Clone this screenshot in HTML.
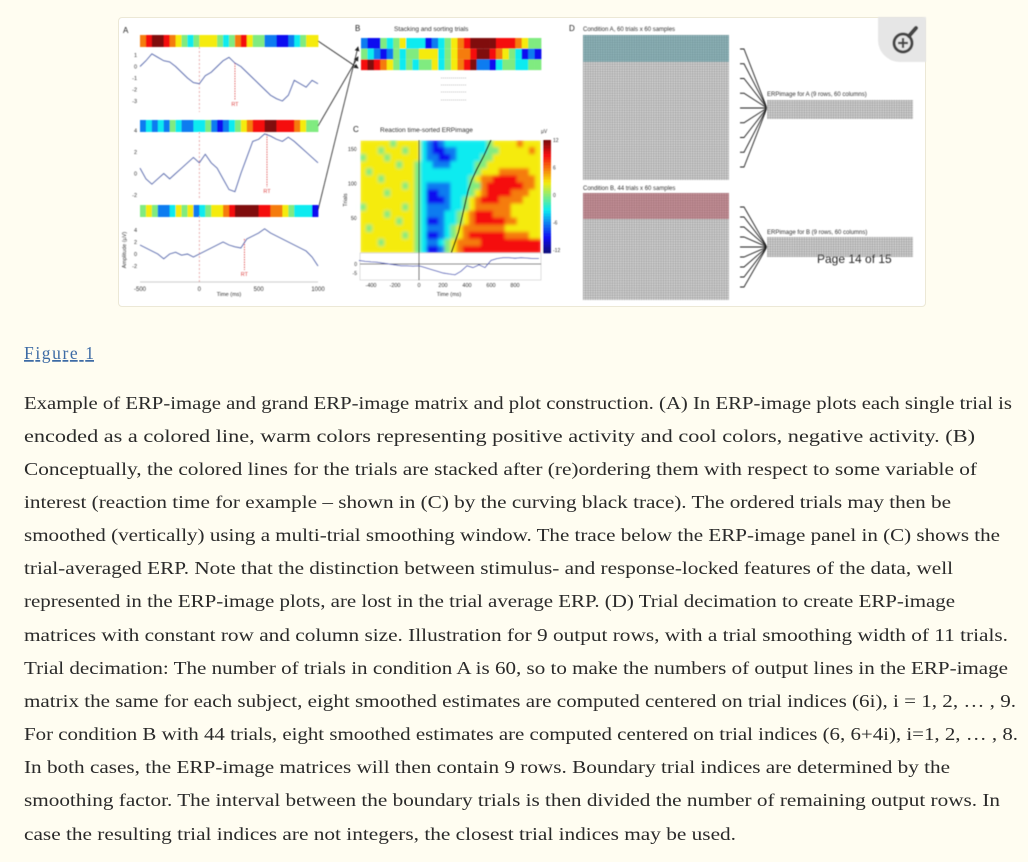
<!DOCTYPE html>
<html><head><meta charset="utf-8">
<style>
html,body{margin:0;padding:0;background:#fffdf1;}
body{width:1028px;height:862px;overflow:hidden;position:relative;font-family:"Liberation Sans",sans-serif;}
#fig{position:absolute;left:118px;top:17px;width:806px;height:288px;background:#fff;border:1px solid #ece8d6;border-radius:4px;}
svg text{font-family:"Liberation Sans",sans-serif;}
</style></head>
<body>
<div id="fig"></div>
<svg id="s" width="1028" height="862" style="position:absolute;left:0;top:0">
<defs>
<pattern id="gridA" width="2.43" height="2.42" patternUnits="userSpaceOnUse" x="583" y="35"><rect width="2.43" height="2.42" fill="#d2d2d2"/><path d="M0 0H2.43M0 0V2.42" stroke="#666" stroke-width="0.6"/></pattern>
<pattern id="gridB" width="2.43" height="2.43" patternUnits="userSpaceOnUse" x="583" y="193"><rect width="2.43" height="2.43" fill="#d2d2d2"/><path d="M0 0H2.43M0 0V2.43" stroke="#666" stroke-width="0.6"/></pattern>
<marker id="arr" markerWidth="6" markerHeight="6" refX="5" refY="3" orient="auto"><path d="M0 0L6 3L0 6z" fill="#222"/></marker>
<filter id="soft" x="-5%" y="-5%" width="110%" height="110%"><feGaussianBlur stdDeviation="0.45"/></filter>
<filter id="hblur" x="-5%" y="-5%" width="110%" height="110%"><feGaussianBlur stdDeviation="1.6"/></filter>
</defs>
<g id="g" filter="url(#soft)"></g>
<g font-size="17.5" fill="#2a2a2a" style="font-family:'Liberation Serif',serif">
<text x="24" y="359" fill="#3d6ba5" text-decoration="underline" style="font-family:'Liberation Serif',serif" textLength="70">Figure 1</text>
<text x="24" y="409" textLength="988" lengthAdjust="spacingAndGlyphs" style="font-family:'Liberation Serif',serif">Example of ERP-image and grand ERP-image matrix and plot construction. (A) In ERP-image plots each single trial is</text>
<text x="24" y="442" textLength="951" lengthAdjust="spacingAndGlyphs" style="font-family:'Liberation Serif',serif">encoded as a colored line, warm colors representing positive activity and cool colors, negative activity. (B)</text>
<text x="24" y="475" textLength="953" lengthAdjust="spacingAndGlyphs" style="font-family:'Liberation Serif',serif">Conceptually, the colored lines for the trials are stacked after (re)ordering them with respect to some variable of</text>
<text x="24" y="508" textLength="927" lengthAdjust="spacingAndGlyphs" style="font-family:'Liberation Serif',serif">interest (reaction time for example – shown in (C) by the curving black trace). The ordered trials may then be</text>
<text x="24" y="541" textLength="976" lengthAdjust="spacingAndGlyphs" style="font-family:'Liberation Serif',serif">smoothed (vertically) using a multi-trial smoothing window. The trace below the ERP-image panel in (C) shows the</text>
<text x="24" y="574" textLength="929" lengthAdjust="spacingAndGlyphs" style="font-family:'Liberation Serif',serif">trial-averaged ERP. Note that the distinction between stimulus- and response-locked features of the data, well</text>
<text x="24" y="607" textLength="931" lengthAdjust="spacingAndGlyphs" style="font-family:'Liberation Serif',serif">represented in the ERP-image plots, are lost in the trial average ERP. (D) Trial decimation to create ERP-image</text>
<text x="24" y="641" textLength="984" lengthAdjust="spacingAndGlyphs" style="font-family:'Liberation Serif',serif">matrices with constant row and column size. Illustration for 9 output rows, with a trial smoothing width of 11 trials.</text>
<text x="24" y="674" textLength="984" lengthAdjust="spacingAndGlyphs" style="font-family:'Liberation Serif',serif">Trial decimation: The number of trials in condition A is 60, so to make the numbers of output lines in the ERP-image</text>
<text x="24" y="707" textLength="992" lengthAdjust="spacingAndGlyphs" style="font-family:'Liberation Serif',serif">matrix the same for each subject, eight smoothed estimates are computed centered on trial indices (6i), i = 1, 2, … , 9.</text>
<text x="24" y="740" textLength="994" lengthAdjust="spacingAndGlyphs" style="font-family:'Liberation Serif',serif">For condition B with 44 trials, eight smoothed estimates are computed centered on trial indices (6, 6+4i), i=1, 2, … , 8.</text>
<text x="24" y="773" textLength="926" lengthAdjust="spacingAndGlyphs" style="font-family:'Liberation Serif',serif">In both cases, the ERP-image matrices will then contain 9 rows. Boundary trial indices are determined by the</text>
<text x="24" y="806" textLength="976" lengthAdjust="spacingAndGlyphs" style="font-family:'Liberation Serif',serif">smoothing factor. The interval between the boundary trials is then divided the number of remaining output rows. In</text>
<text x="24" y="840" textLength="712" lengthAdjust="spacingAndGlyphs" style="font-family:'Liberation Serif',serif">case the resulting trial indices are not integers, the closest trial indices may be used.</text>
</g>
</svg>
<script>
// ---- data ----
const timesA = [-500,-450,-400,-350,-300,-250,-200,-150,-100,-50,0,50,100,150,200,250,300,350,400,450,500,550,600,650,700,750,800,850,900,950,1000];
const trace1 = [0,0.5,1.1,0.8,0.5,0.4,0,-0.5,-1,-1.4,-1.5,-0.8,-0.5,0,0.5,0.8,0.3,0,-0.5,-1,-1.5,-2,-2.5,-2.8,-3,-2.5,-1.2,-1.5,-1.8,-1.2,-1.5];
const trace2 = [0.5,-0.5,-1,-0.5,0,-0.5,0,0.5,1,1.5,1,1.8,1,0.5,-0.5,-1.5,-1.7,0,1.5,3,3.2,3.7,3.5,3.2,3,3.4,3,2.5,2,1.5,1];
const trace3 = [1.5,1,0.5,0,-0.8,0,0.3,-0.2,0,-0.5,0,0.5,1,1.5,2,1.5,1.2,1,2.5,3,3.5,4.2,3.5,3,2.5,2,1.5,1,0.5,-0.5,-2];
const rtA = [300,570,380];
const strip1 = "678876543455543467544221123455";
const strip2 = "232324322334212345677887776544";
const strip3 = "454223545234556788887766543331";
const stripB = ["2114345333123456788887776544","4321243445553456678876543121","7876543434453456782213443344"];
const heatRows = [
"555554555532123333333455556555",
"555455545532112233333445555565",
"455545555532211233334455555555",
"555555455433222333344555555555",
"545555555433333333345556666655",
"555455555433333333456677776665",
"555555545432222333446777777665",
"555545555431122333456777766655",
"555555555431112334567776666555",
"455555545432222334566666655555",
"555545555432223345677766655555",
"555555455431123345677777665555",
"545555555432223456666666555555",
"555555545431123456777777666655",
"555455555432234566667777777777",
"555555555431124567777777777777"];
const rtTrials = [0,15,30,45,60,75,90,105,120,140,163];
const rtTimes = [270,300,330,350,370,390,410,440,480,540,600];
const erpC = [2,1.5,1.2,1,0.5,0,-0.5,-1,-1,-1.2,-1,-2,-3,-4,-5,-5.5,-6,-4,-1,-2,-0.5,-2,2,3,3.5,3.5,3.2,3.5,3.3,3,3];
const cbTicks = ["12","6","0","-6","-12"];
// ---- helpers ----
const NS="http://www.w3.org/2000/svg";
const G=document.getElementById('g');
function el(t,a,p){const e=document.createElementNS(NS,t);for(const k in a)e.setAttribute(k,a[k]);(p||G).appendChild(e);return e;}
function jet(v){const t=Math.max(0,Math.min(1,v));const r=Math.min(1,Math.max(0,1.5-Math.abs(4*t-3))),g=Math.min(1,Math.max(0,1.5-Math.abs(4*t-2))),b=Math.min(1,Math.max(0,1.5-Math.abs(4*t-1)));return `rgb(${Math.round(r*235+10)},${Math.round(g*225+10)},${Math.round(b*225+15)})`;}
function txt(x,y,s,size,name,anchor,fill){const t=el('text',{x:x,y:y,'font-size':size,fill:fill||'#333','text-anchor':anchor||'start'});t.textContent=s;


return t;}
function strip(str,x0,y0,w,h,name){const g=el('g',{});


const cw=w/str.length;for(let i=0;i<str.length;i++){const r=el('rect',{x:x0+i*cw,y:y0,width:cw+0.4,height:h,fill:jet(+str[i]/8)},g);

}}
// ---- panel A ----
const ax=t=>140+(t+500)/1500*178;
txt(123,33,'A',8,'panel-a-label','start','#222');
const plots=[{s:strip1,sy:35,py:47,ph:65,z:66.5,k:11.5,tr:trace1,ticks:[1,0,-1,-2,-3]},
{s:strip2,sy:120,py:132,ph:67,z:173.5,k:10.7,tr:trace2,ticks:[4,2,0,-2]},
{s:strip3,sy:205,py:216,ph:66,z:254,k:6,tr:trace3,ticks:[4,2,0,-2]}];
plots.forEach((p,i)=>{
 strip(p.s,140,p.sy,178,12,'trial-strip-'+(i+1));
 el('line',{x1:ax(0),x2:ax(0),y1:p.py,y2:p.py+p.ph,stroke:'#d88',"stroke-dasharray":"2,2","stroke-width":0.7});
 el('line',{x1:ax(rtA[i]),x2:ax(rtA[i]),y1:p.z-p.k*p.tr[Math.round((rtA[i]+500)/50)],y2:p.py+p.ph-12,stroke:'#d44',"stroke-dasharray":"1.5,1","stroke-width":0.8});
 txt(ax(rtA[i]),p.py+p.ph-6,'RT',5.5,'rt-label-'+(i+1),'middle','#d44');
 const pl=el('polyline',{points:p.tr.map((v,j)=>ax(timesA[j])+','+(p.z-p.k*v)).join(' '),fill:'none',stroke:'#5566aa','stroke-width':0.9});
 
 
 p.ticks.forEach(v=>txt(137,p.z-p.k*v+2,String(v),5.5,'y-tick','end'));
});
el('line',{x1:140,x2:318,y1:282,y2:282,stroke:'#999','stroke-width':0.5});
[-500,0,500,1000].forEach(v=>txt(ax(v),291,String(v),6,'x-tick-a','middle'));
txt(ax(250),296,'Time (ms)',5.5,'x-axis-title-a','middle');
const yt=txt(126,250,'Amplitude (µV)',5.5,'y-axis-title-a','middle');yt.setAttribute('transform','rotate(-90 126 250)');
// ---- panel B ----
txt(355,31,'B',8,'panel-b-label','start','#222');
txt(394,31,'Stacking and sorting trials',6.5,'panel-b-title');
stripB.forEach((s,i)=>strip(s,361,38+i*10.7,180,10.7,'sorted-strip-'+(i+1)));
[78,85,92,100].forEach(y=>{el('line',{x1:441,x2:467,y1:y,y2:y,stroke:'#aaa','stroke-dasharray':'1,1','stroke-width':0.8});});
[[318,41,358,68],[318,126,358,57],[318,210,358,47]].forEach((a,i)=>{const l=el('line',{x1:a[0],y1:a[1],x2:a[2],y2:a[3],stroke:'#222','stroke-width':0.8,'marker-end':'url(#arr)'});

});
// ---- panel C ----
const cx=t=>359+(t+500)/1500*180;
const cy=tr=>252.5-tr*0.69;
txt(353,132,'C',8,'panel-c-label','start','#222');
txt(380,132,'Reaction time-sorted ERPimage',6.5,'panel-c-title');
const hm=el('g',{});


const hmi=el('g',{filter:'url(#hblur)'},hm);
const nr=heatRows.length;heatRows.forEach((row,r)=>{const cw=181/row.length,rh=113/nr;for(let c=0;c<row.length;c++){const e=el('rect',{x:360+c*cw,y:140+r*rh,width:cw+0.4,height:rh+0.4,fill:jet(+row[c]/8)},hmi);

}});
el('rect',{x:357,y:137,width:3,height:119,fill:'#fff'});
el('rect',{x:541,y:137,width:2,height:119,fill:'#fff'});
el('rect',{x:357,y:136,width:186,height:4,fill:'#fff'});
el('line',{x1:cx(0),x2:cx(0),y1:140,y2:280,stroke:'#333','stroke-width':1});
const rt=el('polyline',{points:rtTrials.map((t,i)=>cx(rtTimes[i])+','+cy(t)).join(' '),fill:'none',stroke:'#111','stroke-width':1.2});


[50,100,150].forEach(v=>txt(357,cy(v)+2,String(v),5.5,'y-tick-c','end'));
const tt=txt(347,200,'Trials',5.5,'y-axis-title-c','middle');tt.setAttribute('transform','rotate(-90 347 200)');
for(let i=0;i<40;i++){el('rect',{x:543,y:140+i*113/40,width:8,height:113/40+0.3,fill:jet(1-i/39)});}
cbTicks.forEach((s,i)=>txt(553,142+i*27.5,s,5,'colorbar-tick'));
txt(541,133,'µV',5,'colorbar-unit');
el('rect',{x:360,y:253,width:181,height:27,fill:'#fff',stroke:'#bbb','stroke-width':0.5});
el('line',{x1:360,x2:541,y1:264,y2:264,stroke:'#333','stroke-width':0.8});
el('line',{x1:cx(0),x2:cx(0),y1:253,y2:280,stroke:'#333','stroke-width':1});
const ec=el('polyline',{points:erpC.map((v,i)=>cx(timesA[i])+','+(264-1.8*v)).join(' '),fill:'none',stroke:'#4455bb','stroke-width':0.9});


txt(357,266,'0',5,'erp-tick','end');txt(357,275,'-5',5,'erp-tick','end');
[-400,-200,0,200,400,600,800].forEach(v=>txt(cx(v),287,String(v),5.5,'x-tick-c','middle'));
txt(cx(250),296,'Time (ms)',5.5,'x-axis-title-c','middle');
// ---- panel D ----
txt(569,31,'D',8,'panel-d-label','start','#222');
txt(583,31,'Condition A, 60 trials x 60 samples',6,'cond-a-title');
txt(583,190,'Condition B, 44 trials x 60 samples',6,'cond-b-title');
const ga=el('rect',{x:583,y:35,width:146,height:145,fill:'url(#gridA)'});


el('rect',{x:583,y:35,width:146,height:27,fill:'#3d8f9a',opacity:0.45});
const gb=el('rect',{x:583,y:193,width:146,height:107,fill:'url(#gridB)'});


el('rect',{x:583,y:193,width:146,height:26,fill:'#b04050',opacity:0.45});
function fan(y0,y1,n,tx,ty){for(let i=0;i<n;i++){const y=y0+i*(y1-y0)/(n-1);el('path',{d:`M740 ${y} L744 ${y} L${tx} ${ty}`,fill:'none',stroke:'#222','stroke-width':0.9});}}
fan(49,167,9,767,108);fan(207,287,9,767,247);
const oa=el('rect',{x:767,y:100,width:146,height:19,fill:'url(#gridA)'});


const ob=el('rect',{x:767,y:237,width:146,height:20,fill:'url(#gridB)'});


txt(767,96,'ERPimage for A (9 rows, 60 columns)',6,'erpimage-a-label');
txt(767,234,'ERPimage for B (9 rows, 60 columns)',6,'erpimage-b-label');
txt(817,263,'Page 14 of 15',12,'page-indicator','start','#222');
// zoom button
const zb=el('path',{d:'M878 17 H926 V62 H900 A22 22 0 0 1 878 40 Z',fill:'#e6e6e6'});


el('circle',{cx:903,cy:43,r:9,fill:'none',stroke:'#444','stroke-width':3});
el('line',{x1:909,y1:36,x2:916,y2:28,stroke:'#444','stroke-width':4,'stroke-linecap':'round'});
el('path',{d:'M898 43H908M903 38V48',stroke:'#444','stroke-width':2.2});
</script>
</body></html>
